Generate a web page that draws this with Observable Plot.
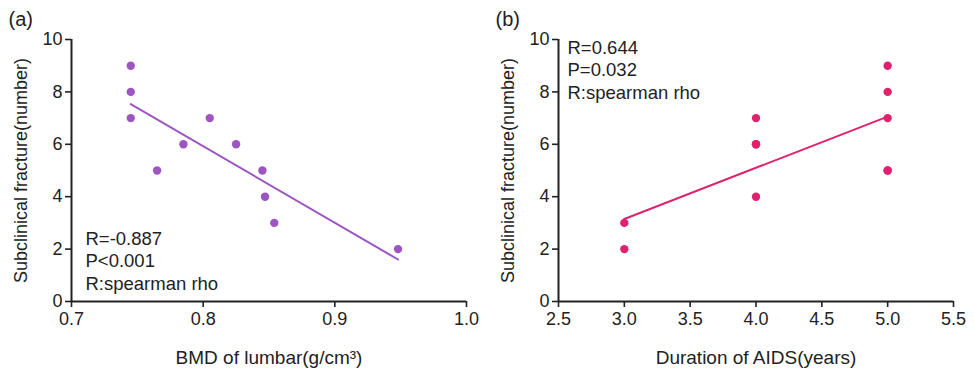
<!DOCTYPE html>
<html>
<head>
<meta charset="utf-8">
<script src="https://cdn.jsdelivr.net/npm/d3@7"></script>
<script src="https://cdn.jsdelivr.net/npm/@observablehq/plot@0.6"></script>
<style>
  html, body { margin: 0; padding: 0; background: #fff; }
  #wrap { display: flex; width: 974px; height: 369px; }
  svg { font-family: "Liberation Sans", Arial, sans-serif; }
</style>
</head>
<body>
<div id="wrap"></div>
<script>
// Panel (a): BMD of lumbar vs subclinical fracture
const bmd = [0.745, 0.745, 0.745, 0.765, 0.785, 0.805, 0.825, 0.845, 0.847, 0.854, 0.948];
const fractureA = [9, 8, 7, 5, 6, 7, 6, 5, 4, 3, 2];
const xTicksA = [0.7, 0.8, 0.9, 1.0];
const statsA = ["R=-0.887", "P<0.001", "R:spearman rho"];

// Panel (b): Duration of AIDS vs subclinical fracture (overlapping points included)
const duration = [3, 3, 4, 4, 4, 4, 5, 5, 5, 5, 5];
const fractureB = [3, 2, 7, 6, 6, 4, 9, 8, 7, 5, 5];
const xTicksB = [2.5, 3.0, 3.5, 4.0, 4.5, 5.0, 5.5];
const statsB = ["R=0.644", "P=0.032", "R:spearman rho"];

const yTicks = [0, 2, 4, 6, 8, 10];
const yLabel = "Subclinical fracture(number)";

const purple = "#9d55c2";
const pink = "#e0226e";
const ink = "#222";

function panel({xs, ys, xDomain, xTicks, xLabel, color, tag, stats, statsAnchor}) {
  const data = xs.map((x, i) => ({x, y: ys[i]}));
  const statsMark = statsAnchor === "top"
    ? Plot.text([stats.join("\n")], {frameAnchor: "top-left", lineAnchor: "top", dx: 9, dy: -1, fontSize: 18.5, lineHeight: 1.2, fill: ink})
    : Plot.text([stats.join("\n")], {frameAnchor: "bottom-left", lineAnchor: "bottom", dx: 14, dy: -12, fontSize: 18.5, lineHeight: 1.2, fill: ink});
  return Plot.plot({
    width: 487,
    height: 369,
    marginLeft: 71,
    marginRight: 21,
    marginTop: 39,
    marginBottom: 68,
    style: {fontFamily: "Liberation Sans, Arial, sans-serif", color: ink, background: "#fff"},
    x: {domain: xDomain},
    y: {domain: [0, 10]},
    marks: [
      Plot.axisX({ticks: xTicks, tickFormat: d3.format(".1f"), tickSize: 6, tickPadding: 5, fontSize: 18,
        strokeWidth: 1.6, label: null}),
      Plot.axisY({ticks: yTicks, tickSize: 6, tickPadding: 3, fontSize: 18, strokeWidth: 1.6, label: null}),
      Plot.text([xLabel], {frameAnchor: "bottom", lineAnchor: "middle", dy: 56, fontSize: 19, fill: ink}),
      Plot.text([yLabel], {frameAnchor: "left", lineAnchor: "middle", textAnchor: "middle", rotate: -90, dx: -50, fontSize: 18, fill: ink}),
      Plot.ruleY([0], {stroke: ink, strokeWidth: 2}),
      Plot.ruleX([xDomain[0]], {y1: 0, y2: 10, stroke: ink, strokeWidth: 2}),
      Plot.linearRegressionY(data, {x: "x", y: "y", stroke: color, strokeWidth: 2, ci: 0}),
      Plot.dot(data, {x: "x", y: "y", r: 4.2, fill: color, stroke: "none"}),
      statsMark,
      Plot.text([tag], {frameAnchor: "top-left", lineAnchor: "middle", textAnchor: "start", dx: -63, dy: -20, fontSize: 20, fill: ink})
    ]
  });
}

const wrap = document.getElementById("wrap");
const a = panel({xs: bmd, ys: fractureA, xDomain: [0.7, 1.0], xTicks: xTicksA, xLabel: "BMD of lumbar(g/cm³)",
  color: purple, tag: "(a)", stats: statsA, statsAnchor: "bottom"});
const b = panel({xs: duration, ys: fractureB, xDomain: [2.5, 5.5], xTicks: xTicksB, xLabel: "Duration of AIDS(years)",
  color: pink, tag: "(b)", stats: statsB, statsAnchor: "top"});
wrap.appendChild(a);
wrap.appendChild(b);
</script>
</body>
</html>
